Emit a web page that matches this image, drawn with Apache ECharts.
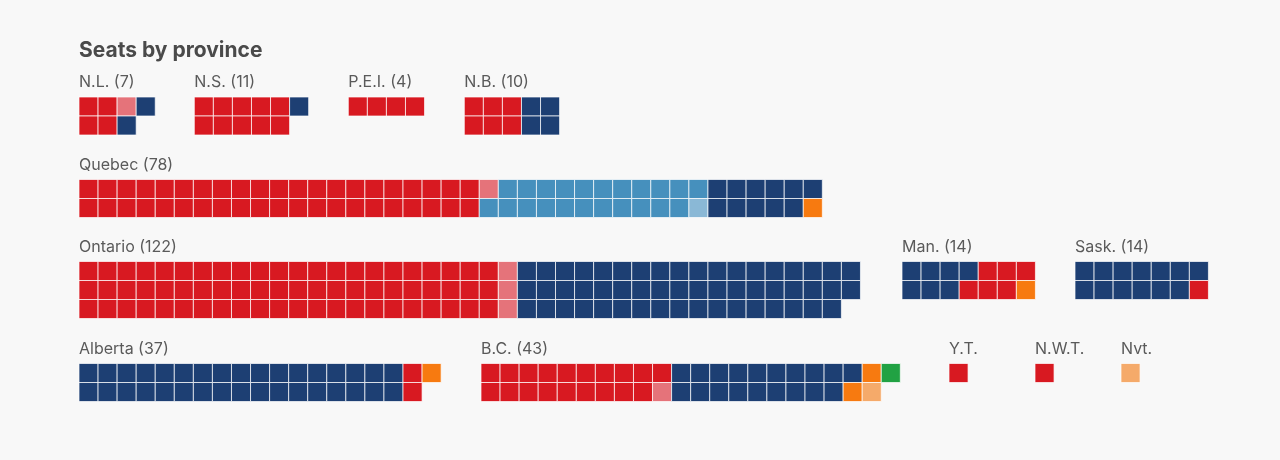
<!DOCTYPE html>
<html><head><meta charset="utf-8">
<script src="https://cdn.jsdelivr.net/npm/echarts@6/dist/echarts.min.js"></script>
<style>html,body{margin:0;background:#f8f8f8}#c{width:1280px;height:460px}</style>
</head><body><div id="c"></div>
<script>
// ---- data ----
const provinces = ['N.L.','N.S.','P.E.I.','N.B.','Quebec','Ontario','Man.','Sask.','Alberta','B.C.','Y.T.','N.W.T.','Nvt.'];
const provinceLabels = ['N.L. (7)','N.S. (11)','P.E.I. (4)','N.B. (10)','Quebec (78)','Ontario (122)','Man. (14)','Sask. (14)','Alberta (37)','B.C. (43)','Y.T.','N.W.T.','Nvt.'];
const liberal        = [4,10,4,6,42,66,6,1,2,19,1,1,0];
const liberalLeading = [1,0,0,0,1,3,0,0,0,1,0,0,0];
const bloc           = [0,0,0,0,22,0,0,0,0,0,0,0,0];
const blocLeading    = [0,0,0,0,1,0,0,0,0,0,0,0,0];
const conservative   = [2,1,0,4,11,53,7,13,34,19,0,0,0];
const ndp            = [0,0,0,0,1,0,1,0,1,2,0,0,0];
const ndpLeading     = [0,0,0,0,0,0,0,0,0,1,0,0,1];
const green          = [0,0,0,0,0,0,0,0,0,1,0,0,0];
const rowsPerProvince = [2,2,1,2,2,3,2,2,2,2,1,1,1];

// ---- styling / layout ----
const partyGroups = [
  [{vals: liberal, color:'#d81921'}, {vals: liberalLeading, color:'#e5737a'}],
  [{vals: bloc, color:'#4690bd'}, {vals: blocLeading, color:'#8ab8d6'}],
  [{vals: conservative, color:'#1d3f73'}],
  [{vals: ndp, color:'#f77a10'}, {vals: ndpLeading, color:'#f5aa6a'}],
  [{vals: green, color:'#21a243'}]
];
const layout = [[79,97],[194.3,97],[348.3,97],[464.3,97],[79,179.5],[79,261.5],[902,261.5],[1075,261.5],[79,363.5],[481,363.5],[949,363.5],[1035,363.5],[1121,363.5]];
const PW = 19.06, PH = 19;

const grids = [], xAxes = [], yAxes = [], series = [], texts = [];
provinces.forEach((p, i) => {
  const rows = rowsPerProvince[i];
  const groups = partyGroups.map((g, gi) => ({gi, g, total: g.reduce((s, e) => s + e.vals[i], 0)}))
    .filter(o => o.total > 0)
    .sort((a, b) => b.total - a.total || a.gi - b.gi);
  const colorsSeq = [];
  groups.forEach(o => o.g.forEach(e => { for (let k = 0; k < e.vals[i]; k++) colorsSeq.push(e.color); }));
  const n = colorsSeq.length;
  const cols = Math.ceil(n / rows);
  const data = colorsSeq.map((c, k) => ({value: [Math.floor(k / rows), k % rows], itemStyle: {color: c}}));
  const [left, top] = layout[i];
  grids.push({left, top, width: cols * PW, height: rows * PH, containLabel: false});
  xAxes.push({type:'value', gridIndex:i, min:0, max:cols, show:false});
  yAxes.push({type:'value', gridIndex:i, min:0, max:rows, inverse:true, show:false});
  series.push({
    type:'custom', name:p, xAxisIndex:i, yAxisIndex:i, data,
    renderItem(params, api) {
      const c = api.value(0), r = api.value(1);
      const p0 = api.coord([c, r]), p1 = api.coord([c + 1, r + 1]);
      return {type:'rect', shape:{x:p0[0], y:p0[1], width:p1[0]-p0[0], height:p1[1]-p0[1]},
        style:{fill: api.visual('color'), stroke:'rgba(255,255,255,0.7)', lineWidth:1}};
    }
  });
  texts.push({type:'text', x: left, y: top - 14.5,
    style:{text: provinceLabels[i], fill:'#5a5a5a', font:'16px Inter', textVerticalAlign:'middle'}});
});
texts.push({type:'text', x: 79, y: 50.5,
  style:{text:'Seats by province', fill:'#4a4a4a', font:'bold 21px Inter', textVerticalAlign:'middle'}});

const chart = echarts.init(document.getElementById('c'));
chart.setOption({
  backgroundColor:'#f8f8f8',
  animation:false,
  grid: grids, xAxis: xAxes, yAxis: yAxes, series,
  graphic: texts
});
</script></body></html>
